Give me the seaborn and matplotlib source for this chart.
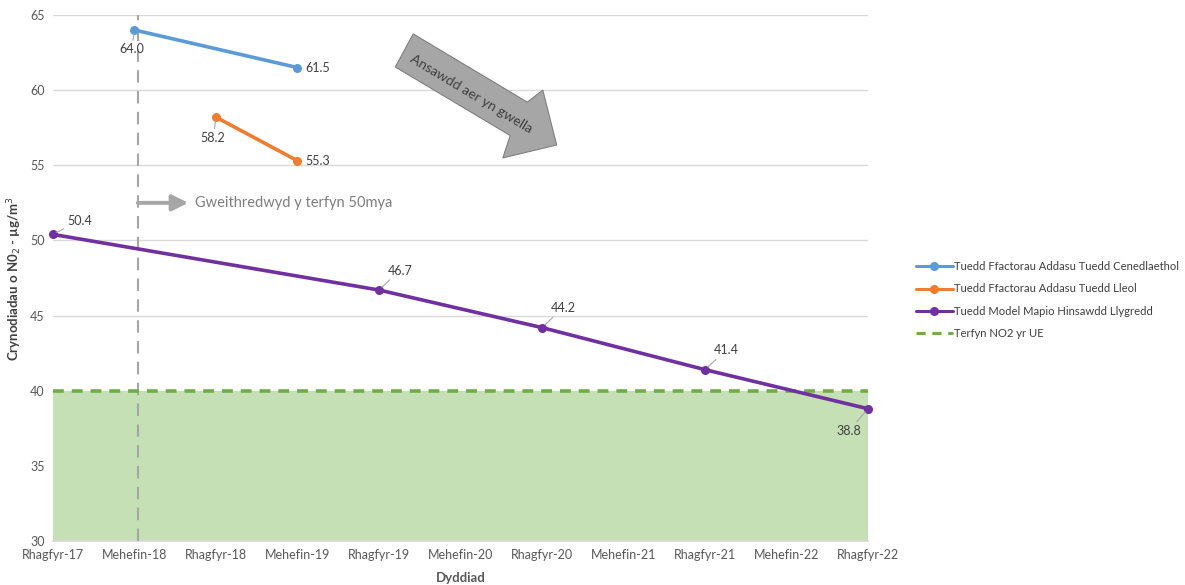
import matplotlib
matplotlib.use("Agg")
import matplotlib.pyplot as plt
import seaborn as sns
import pandas as pd
from matplotlib.patches import Polygon

categories = ["Rhagfyr-17", "Mehefin-18", "Rhagfyr-18", "Mehefin-19", "Rhagfyr-19",
              "Mehefin-20", "Rhagfyr-20", "Mehefin-21", "Rhagfyr-21", "Mehefin-22", "Rhagfyr-22"]

national_dates = ["Mehefin-18", "Mehefin-19"]
national_values = [64.0, 61.5]
local_dates = ["Rhagfyr-18", "Mehefin-19"]
local_values = [58.2, 55.3]
model_dates = ["Rhagfyr-17", "Rhagfyr-19", "Rhagfyr-20", "Rhagfyr-21", "Rhagfyr-22"]
model_values = [50.4, 46.7, 44.2, 41.4, 38.8]
limit_value = 40.0
limit_values = [limit_value] * len(categories)

names = ["Tuedd Ffactorau Addasu Tuedd Cenedlaethol",
         "Tuedd Ffactorau Addasu Tuedd Lleol",
         "Tuedd Model Mapio Hinsawdd Llygredd",
         "Terfyn NO2 yr UE"]
colors = ["#5b9bd5", "#ed7d31", "#7030a0", "#70ad47"]

sns.set_theme(style="white")
plt.rcParams["font.family"] = ["Lato", "DejaVu Sans"]

fig = plt.figure(figsize=(11.85, 5.85), dpi=100)
ax = fig.add_axes([0.0447, 0.0752, 0.6878, 0.8992])

rows = []
for name, dates, vals in [(names[0], national_dates, national_values),
                          (names[1], local_dates, local_values),
                          (names[2], model_dates, model_values)]:
    for d, v in zip(dates, vals):
        rows.append({"series": name, "pos": categories.index(d), "value": v})
df = pd.DataFrame(rows)

limit_df = pd.DataFrame({"pos": list(range(len(categories))), "value": limit_values})

ax.fill_between(limit_df["pos"], 30, limit_df["value"], color="#c5e0b4", zorder=1, lw=0)

for i, name in enumerate(names[:3]):
    sub = df[df["series"] == name]
    sns.lineplot(data=sub, x="pos", y="value", ax=ax, color=colors[i], lw=2.6,
                 marker="o", markersize=6.5, markeredgewidth=0, label=name,
                 zorder=5, clip_on=False)
sns.lineplot(data=limit_df, x="pos", y="value", ax=ax, color=colors[3], lw=2.6,
             label=names[3], zorder=4)
ax.lines[-1].set_dashes((3, 2.2))

ax.axvline(categories.index("Mehefin-18") + 0.04, color="#a6a6a6", lw=1.5,
           ls=(0, (6, 4)), zorder=3)

ax.set_xlim(0, 10)
ax.set_ylim(30, 65)
ax.set_yticks(range(30, 66, 5))
ax.set_xticks(range(len(categories)))
ax.set_xticklabels(categories)
ax.tick_params(axis="both", labelsize=9, colors="#595959", length=0, pad=6)
ax.yaxis.grid(True, color="#d9d9d9", lw=1)
ax.set_axisbelow(True)
for s in ["top", "right", "left"]:
    ax.spines[s].set_visible(False)
ax.spines["bottom"].set_color("#d9d9d9")

ax.set_xlabel("Dyddiad", fontsize=9.5, fontweight="bold", color="#595959", labelpad=8)
ax.set_ylabel("Crynodiadau o N0$_2$ - µg/m$^3$", fontsize=9.5, fontweight="bold",
              color="#404040", labelpad=4)

# data labels
lab_kw = dict(fontsize=9, color="#404040", zorder=6)
lead = dict(arrowstyle="-", color="#a6a6a6", lw=0.8, shrinkA=0, shrinkB=3)
def lab(x, y, dx, dy, text, leader=False, ha="center", va="center"):
    ax.annotate(text, xy=(x, y), xytext=(dx, dy), textcoords="offset points",
                ha=ha, va=va, arrowprops=lead if leader else None, **lab_kw)

nx = [categories.index(d) for d in national_dates]
lx = [categories.index(d) for d in local_dates]
mx = [categories.index(d) for d in model_dates]
lab(nx[0], national_values[0], -2, -14, f"{national_values[0]:.1f}", leader=True)
lab(nx[1], national_values[1], 6, 0, f"{national_values[1]:.1f}", ha="left")
lab(lx[0], local_values[0], -2, -15, f"{local_values[0]:.1f}", leader=True)
lab(lx[1], local_values[1], 6, 0, f"{local_values[1]:.1f}", ha="left")
lab(mx[0], model_values[0], 10, 10, f"{model_values[0]:.1f}", leader=True, ha="left")
for k in range(1, 4):
    lab(mx[k], model_values[k], 6, 14, f"{model_values[k]:.1f}", leader=True, ha="left")
lab(mx[4], model_values[4], -14, -16, f"{model_values[4]:.1f}", leader=True, ha="center")

# implementation arrow
ax.annotate("", xy=(1.66, 52.5), xytext=(1.04, 52.5),
            arrowprops=dict(arrowstyle="-|>,head_length=0.8,head_width=0.4",
                            color="#a6a6a6", lw=2.8, shrinkA=0, shrinkB=0), zorder=6)
ax.text(1.74, 52.5, "Gweithredwyd y terfyn 50mya", fontsize=10.5, color="#7f7f7f",
        va="center", ha="left")

# big arrow
arrow_pts = [(4.42, 63.74), (5.82, 59.2), (6.01, 60.0), (6.18, 56.35),
             (5.52, 55.49), (5.61, 56.98), (4.20, 61.54)]
ax.add_patch(Polygon(arrow_pts, closed=True, facecolor="#a6a6a6", edgecolor="#7f7f7f",
                     lw=0.8, zorder=6))
ax.text(5.13, 59.74, "Ansawdd aer yn gwella", rotation=-31, rotation_mode="anchor",
        fontsize=10, color="#404040", ha="center", va="center", zorder=7)

leg = ax.legend(loc="center left", bbox_to_anchor=(0.766, 0.487),
                bbox_transform=fig.transFigure, frameon=False, fontsize=8.1,
                handlelength=3.3, labelspacing=1.0, handletextpad=0.1,
                borderpad=0.2)
for t in leg.get_texts():
    t.set_color("#404040")
for h in leg.get_lines():
    h.set_linewidth(2.2)

fig.savefig("out.png", dpi=100)
